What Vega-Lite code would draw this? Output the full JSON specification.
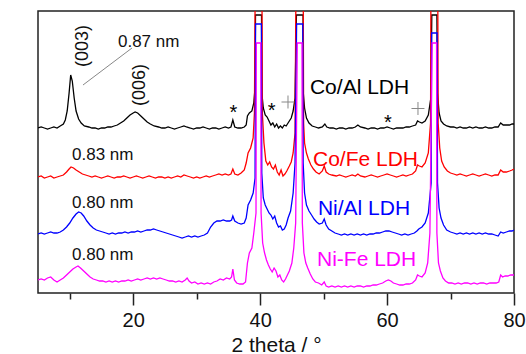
{
"$schema": "https://vega.github.io/schema/vega-lite/v6.json",
"width": 476, "height": 282,
"autosize": {"type": "none"},
"padding": {"left": 38, "top": 11, "right": 12, "bottom": 61},
"config": {
 "view": {"stroke": "#222", "strokeWidth": 1.5},
 "font": "Liberation Sans",
 "axis": {"domain": false, "grid": false, "tickColor": "#222", "tickWidth": 1.5, "labelFont": "Liberation Sans", "labelFontSize": 20, "labelColor": "#111", "titleFont": "Liberation Sans", "titleFontWeight": "normal", "titleColor": "#111"}
},
"datasets": {
 "coal": [
{"x":5,"y":165},{"x":5.5,"y":166},{"x":6,"y":165},{"x":6.5,"y":164},{"x":7,"y":165},{"x":7.5,"y":166},{"x":8,"y":165},{"x":8.5,"y":167},{"x":9,"y":169},{"x":9.3,"y":173},{"x":9.6,"y":182},{"x":9.9,"y":200},{"x":10.15,"y":218},{"x":10.4,"y":212},{"x":10.7,"y":195},{"x":11,"y":182},{"x":11.4,"y":174},{"x":11.8,"y":170},{"x":12.3,"y":167},{"x":13,"y":166},{"x":13.5,"y":165},{"x":14,"y":165},{"x":14.5,"y":164},{"x":15,"y":165},{"x":15.5,"y":165},{"x":16,"y":166},{"x":16.5,"y":166},{"x":17,"y":167},{"x":17.5,"y":168},{"x":18,"y":170},{"x":18.5,"y":172},{"x":19,"y":175},{"x":19.5,"y":178},{"x":20,"y":180},{"x":20.3,"y":181},{"x":20.7,"y":180},{"x":21.2,"y":177},{"x":21.7,"y":174},{"x":22.2,"y":171},{"x":22.7,"y":169},{"x":23.3,"y":167},{"x":24,"y":166},{"x":24.5,"y":165},{"x":25,"y":165},{"x":25.5,"y":166},{"x":26,"y":165},{"x":26.5,"y":164},{"x":27,"y":165},{"x":27.5,"y":166},{"x":28,"y":167},{"x":28.4,"y":166},{"x":29,"y":165},{"x":29.5,"y":164},{"x":30,"y":165},{"x":30.5,"y":165},{"x":31,"y":166},{"x":31.5,"y":165},{"x":32,"y":164},{"x":32.5,"y":165},{"x":33,"y":165},{"x":33.5,"y":164},{"x":34,"y":165},{"x":34.5,"y":166},{"x":35,"y":165},{"x":35.4,"y":166},{"x":35.7,"y":173},{"x":36,"y":166},{"x":36.5,"y":165},{"x":37,"y":165},{"x":37.5,"y":166},{"x":37.8,"y":168},{"x":38,"y":177},{"x":38.3,"y":180},{"x":38.7,"y":182},{"x":39,"y":190},{"x":39.2,"y":205},{"x":39.27,"y":278},{"x":40.22,"y":278},{"x":40.27,"y":200},{"x":40.5,"y":185},{"x":40.8,"y":178},{"x":41.1,"y":176},{"x":41.4,"y":172},{"x":41.7,"y":168},{"x":42,"y":170},{"x":42.3,"y":166},{"x":42.6,"y":169},{"x":42.9,"y":165},{"x":43.2,"y":167},{"x":43.5,"y":165},{"x":43.8,"y":168},{"x":44.1,"y":167},{"x":44.5,"y":171},{"x":44.9,"y":175},{"x":45.2,"y":182},{"x":45.5,"y":195},{"x":45.72,"y":278},{"x":46.76,"y":278},{"x":46.8,"y":200},{"x":47,"y":185},{"x":47.3,"y":175},{"x":47.7,"y":170},{"x":48.2,"y":167},{"x":48.7,"y":166},{"x":49.2,"y":165},{"x":49.8,"y":166},{"x":50.2,"y":169},{"x":50.5,"y":166},{"x":51,"y":165},{"x":51.5,"y":165},{"x":52,"y":164},{"x":52.5,"y":165},{"x":53,"y":165},{"x":53.5,"y":164},{"x":54,"y":165},{"x":54.5,"y":165},{"x":55,"y":166},{"x":55.4,"y":168},{"x":55.8,"y":166},{"x":56.5,"y":165},{"x":57,"y":164},{"x":57.5,"y":165},{"x":58,"y":165},{"x":58.5,"y":164},{"x":59,"y":165},{"x":59.5,"y":165},{"x":60,"y":166},{"x":60.5,"y":165},{"x":61,"y":164},{"x":61.5,"y":165},{"x":62,"y":165},{"x":62.5,"y":165},{"x":63,"y":166},{"x":63.5,"y":166},{"x":64,"y":167},{"x":64.5,"y":168},{"x":64.8,"y":172},{"x":65.1,"y":171},{"x":65.5,"y":170},{"x":66,"y":172},{"x":66.5,"y":178},{"x":66.9,"y":195},{"x":67.05,"y":278},{"x":67.85,"y":278},{"x":67.95,"y":200},{"x":68.2,"y":180},{"x":68.5,"y":172},{"x":68.9,"y":169},{"x":69.4,"y":167},{"x":70,"y":166},{"x":70.5,"y":166},{"x":71,"y":165},{"x":71.5,"y":166},{"x":72,"y":165},{"x":72.5,"y":165},{"x":73,"y":166},{"x":73.5,"y":165},{"x":74,"y":166},{"x":74.5,"y":165},{"x":75,"y":165},{"x":75.5,"y":166},{"x":76,"y":165},{"x":76.5,"y":165},{"x":77,"y":166},{"x":77.5,"y":166},{"x":77.9,"y":170},{"x":78.3,"y":168},{"x":78.8,"y":168},{"x":79.3,"y":168},{"x":79.7,"y":169},{"x":80,"y":169}
 ],
 "cofe": [
{"x":5,"y":116},{"x":5.5,"y":117},{"x":6,"y":115},{"x":6.5,"y":116},{"x":7,"y":117},{"x":7.5,"y":115},{"x":8,"y":116},{"x":8.5,"y":117},{"x":9,"y":118},{"x":9.5,"y":121},{"x":9.9,"y":124},{"x":10.2,"y":126},{"x":10.6,"y":125},{"x":11,"y":123},{"x":11.5,"y":121},{"x":12,"y":119},{"x":12.5,"y":118},{"x":13,"y":117},{"x":13.5,"y":116},{"x":14,"y":117},{"x":14.5,"y":116},{"x":15,"y":115},{"x":15.5,"y":116},{"x":16,"y":117},{"x":16.5,"y":116},{"x":17,"y":115},{"x":17.5,"y":116},{"x":18,"y":116},{"x":18.5,"y":117},{"x":19,"y":116},{"x":19.5,"y":115},{"x":20,"y":116},{"x":20.5,"y":117},{"x":21,"y":116},{"x":21.5,"y":115},{"x":22,"y":116},{"x":22.5,"y":117},{"x":23,"y":116},{"x":23.5,"y":115},{"x":24,"y":116},{"x":24.5,"y":116},{"x":25,"y":115},{"x":25.5,"y":116},{"x":26,"y":115},{"x":26.5,"y":116},{"x":27,"y":117},{"x":27.5,"y":116},{"x":28,"y":118},{"x":28.5,"y":117},{"x":29,"y":116},{"x":29.5,"y":115},{"x":30,"y":116},{"x":30.5,"y":115},{"x":31,"y":116},{"x":31.5,"y":117},{"x":32,"y":116},{"x":32.5,"y":117},{"x":33,"y":118},{"x":33.5,"y":119},{"x":34,"y":118},{"x":34.5,"y":119},{"x":35,"y":118},{"x":35.4,"y":119},{"x":35.7,"y":124},{"x":36,"y":119},{"x":36.5,"y":118},{"x":37,"y":120},{"x":37.5,"y":123},{"x":37.8,"y":130},{"x":38.1,"y":140},{"x":38.5,"y":145},{"x":38.9,"y":155},{"x":39.1,"y":180},{"x":39.2,"y":284},{"x":40.3,"y":284},{"x":40.35,"y":180},{"x":40.6,"y":150},{"x":40.9,"y":132},{"x":41.2,"y":128},{"x":41.5,"y":131},{"x":41.8,"y":126},{"x":42.1,"y":124},{"x":42.4,"y":128},{"x":42.7,"y":121},{"x":43,"y":118},{"x":43.3,"y":123},{"x":43.6,"y":117},{"x":43.9,"y":119},{"x":44.2,"y":122},{"x":44.6,"y":127},{"x":44.9,"y":131},{"x":45.2,"y":140},{"x":45.5,"y":160},{"x":45.62,"y":284},{"x":46.8,"y":284},{"x":46.85,"y":170},{"x":47,"y":150},{"x":47.3,"y":140},{"x":47.6,"y":134},{"x":48,"y":128},{"x":48.4,"y":124},{"x":48.8,"y":121},{"x":49.3,"y":119},{"x":49.8,"y":122},{"x":50.1,"y":127},{"x":50.4,"y":121},{"x":50.8,"y":119},{"x":51.3,"y":118},{"x":52,"y":117},{"x":52.5,"y":118},{"x":53,"y":117},{"x":53.5,"y":116},{"x":54,"y":117},{"x":54.5,"y":118},{"x":55,"y":117},{"x":55.4,"y":119},{"x":55.8,"y":117},{"x":56.5,"y":116},{"x":57,"y":117},{"x":57.5,"y":118},{"x":58,"y":117},{"x":58.5,"y":116},{"x":59,"y":117},{"x":59.5,"y":118},{"x":60,"y":119},{"x":60.5,"y":118},{"x":61,"y":117},{"x":61.5,"y":116},{"x":62,"y":117},{"x":62.5,"y":118},{"x":63,"y":117},{"x":63.5,"y":118},{"x":64,"y":119},{"x":64.5,"y":122},{"x":64.8,"y":128},{"x":65.1,"y":127},{"x":65.5,"y":126},{"x":66,"y":130},{"x":66.5,"y":140},{"x":66.85,"y":170},{"x":66.9,"y":284},{"x":68,"y":284},{"x":68.05,"y":170},{"x":68.3,"y":145},{"x":68.6,"y":132},{"x":69,"y":126},{"x":69.5,"y":122},{"x":70,"y":120},{"x":70.5,"y":119},{"x":71,"y":118},{"x":71.5,"y":119},{"x":72,"y":118},{"x":72.5,"y":117},{"x":73,"y":118},{"x":73.5,"y":119},{"x":74,"y":118},{"x":74.5,"y":117},{"x":75,"y":118},{"x":75.5,"y":119},{"x":76,"y":118},{"x":76.5,"y":117},{"x":77,"y":118},{"x":77.5,"y":118},{"x":77.9,"y":123},{"x":78.3,"y":121},{"x":78.8,"y":121},{"x":79.3,"y":122},{"x":79.7,"y":123},{"x":80,"y":124}
 ],
 "nial": [
{"x":5,"y":59},{"x":5.5,"y":60},{"x":6,"y":59},{"x":6.5,"y":60},{"x":7,"y":61},{"x":7.5,"y":60},{"x":8,"y":60},{"x":8.5,"y":61},{"x":9,"y":63},{"x":9.5,"y":66},{"x":10,"y":70},{"x":10.5,"y":75},{"x":11,"y":79},{"x":11.4,"y":81},{"x":11.8,"y":80},{"x":12.2,"y":77},{"x":12.7,"y":72},{"x":13.2,"y":68},{"x":13.7,"y":65},{"x":14.2,"y":63},{"x":14.7,"y":62},{"x":15.2,"y":61},{"x":15.7,"y":60},{"x":16.2,"y":59},{"x":16.7,"y":60},{"x":17.2,"y":59},{"x":17.7,"y":60},{"x":18.2,"y":60},{"x":18.7,"y":61},{"x":19.2,"y":60},{"x":19.7,"y":61},{"x":20.2,"y":61},{"x":20.7,"y":62},{"x":21.2,"y":61},{"x":21.7,"y":62},{"x":22.2,"y":63},{"x":22.7,"y":63},{"x":23.2,"y":64},{"x":23.7,"y":63},{"x":24.2,"y":62},{"x":24.7,"y":61},{"x":25.2,"y":60},{"x":25.7,"y":59},{"x":26.2,"y":58},{"x":26.7,"y":57},{"x":27.2,"y":56},{"x":27.7,"y":55},{"x":28.2,"y":56},{"x":28.7,"y":57},{"x":29.2,"y":56},{"x":29.7,"y":57},{"x":30.2,"y":56},{"x":30.7,"y":57},{"x":31.2,"y":58},{"x":31.7,"y":60},{"x":32.2,"y":66},{"x":32.7,"y":70},{"x":33.2,"y":72},{"x":33.7,"y":72},{"x":34.2,"y":73},{"x":34.7,"y":72},{"x":35.2,"y":72},{"x":35.5,"y":73},{"x":35.7,"y":77},{"x":36,"y":72},{"x":36.5,"y":70},{"x":37,"y":69},{"x":37.5,"y":70},{"x":37.8,"y":75},{"x":38.1,"y":88},{"x":38.5,"y":93},{"x":38.9,"y":100},{"x":39.2,"y":115},{"x":39.28,"y":269},{"x":40.2,"y":269},{"x":40.26,"y":120},{"x":40.5,"y":95},{"x":40.8,"y":88},{"x":41.1,"y":84},{"x":41.4,"y":80},{"x":41.7,"y":78},{"x":42,"y":74},{"x":42.3,"y":77},{"x":42.6,"y":70},{"x":42.9,"y":66},{"x":43.2,"y":67},{"x":43.5,"y":63},{"x":43.8,"y":64},{"x":44.1,"y":68},{"x":44.4,"y":75},{"x":44.8,"y":82},{"x":45.2,"y":100},{"x":45.5,"y":130},{"x":45.75,"y":269},{"x":46.72,"y":269},{"x":46.78,"y":130},{"x":47,"y":100},{"x":47.3,"y":88},{"x":47.7,"y":82},{"x":48.1,"y":78},{"x":48.5,"y":74},{"x":48.9,"y":71},{"x":49.3,"y":69},{"x":49.8,"y":70},{"x":50.1,"y":74},{"x":50.4,"y":68},{"x":50.8,"y":64},{"x":51.3,"y":62},{"x":51.8,"y":60},{"x":52.3,"y":59},{"x":52.8,"y":58},{"x":53.3,"y":59},{"x":53.8,"y":58},{"x":54.3,"y":59},{"x":54.8,"y":58},{"x":55.3,"y":59},{"x":55.8,"y":58},{"x":56.3,"y":59},{"x":56.8,"y":58},{"x":57.3,"y":59},{"x":57.8,"y":59},{"x":58.3,"y":60},{"x":58.8,"y":60},{"x":59.3,"y":61},{"x":59.8,"y":62},{"x":60.3,"y":62},{"x":60.8,"y":61},{"x":61.3,"y":60},{"x":61.8,"y":59},{"x":62.3,"y":58},{"x":62.8,"y":59},{"x":63.3,"y":58},{"x":63.8,"y":59},{"x":64.3,"y":60},{"x":64.7,"y":62},{"x":65,"y":64},{"x":65.5,"y":66},{"x":66,"y":70},{"x":66.5,"y":80},{"x":66.95,"y":110},{"x":67.02,"y":260},{"x":67.88,"y":260},{"x":67.95,"y":110},{"x":68.2,"y":85},{"x":68.5,"y":75},{"x":68.9,"y":68},{"x":69.4,"y":63},{"x":70,"y":61},{"x":70.5,"y":60},{"x":71,"y":59},{"x":71.5,"y":60},{"x":72,"y":59},{"x":72.5,"y":60},{"x":73,"y":59},{"x":73.5,"y":60},{"x":74,"y":59},{"x":74.5,"y":60},{"x":75,"y":59},{"x":75.5,"y":60},{"x":76,"y":59},{"x":76.5,"y":59},{"x":77,"y":58},{"x":77.5,"y":57},{"x":77.9,"y":61},{"x":78.3,"y":60},{"x":78.8,"y":61},{"x":79.3,"y":62},{"x":79.7,"y":62},{"x":80,"y":63}
 ],
 "nife": [
{"x":5,"y":13},{"x":5.5,"y":14},{"x":6,"y":13},{"x":6.5,"y":15},{"x":7,"y":16},{"x":7.5,"y":13},{"x":8,"y":11},{"x":8.5,"y":13},{"x":9,"y":15},{"x":9.5,"y":18},{"x":10,"y":21},{"x":10.5,"y":24},{"x":11,"y":26},{"x":11.3,"y":27},{"x":11.7,"y":25},{"x":12.2,"y":22},{"x":12.7,"y":19},{"x":13.2,"y":16},{"x":13.7,"y":14},{"x":14.2,"y":13},{"x":14.7,"y":12},{"x":15.2,"y":12},{"x":15.7,"y":11},{"x":16.2,"y":12},{"x":16.7,"y":11},{"x":17.2,"y":12},{"x":17.7,"y":11},{"x":18.2,"y":12},{"x":18.7,"y":12},{"x":19.2,"y":13},{"x":19.7,"y":12},{"x":20.2,"y":13},{"x":20.7,"y":14},{"x":21.2,"y":13},{"x":21.7,"y":14},{"x":22.2,"y":15},{"x":22.7,"y":14},{"x":23.2,"y":15},{"x":23.7,"y":14},{"x":24.2,"y":15},{"x":24.7,"y":14},{"x":25.2,"y":13},{"x":25.7,"y":12},{"x":26.2,"y":12},{"x":26.7,"y":11},{"x":27.2,"y":12},{"x":27.7,"y":11},{"x":28.2,"y":13},{"x":28.5,"y":15},{"x":28.8,"y":12},{"x":29.2,"y":10},{"x":29.7,"y":11},{"x":30.2,"y":9},{"x":30.7,"y":10},{"x":31.2,"y":9},{"x":31.7,"y":10},{"x":32.2,"y":9},{"x":32.7,"y":11},{"x":33.2,"y":12},{"x":33.7,"y":14},{"x":34.2,"y":13},{"x":34.7,"y":15},{"x":35.2,"y":14},{"x":35.5,"y":16},{"x":35.7,"y":24},{"x":35.95,"y":13},{"x":36.3,"y":10},{"x":36.8,"y":9},{"x":37.3,"y":9},{"x":37.7,"y":11},{"x":38,"y":30},{"x":38.3,"y":40},{"x":38.7,"y":45},{"x":39,"y":60},{"x":39.35,"y":80},{"x":39.4,"y":250},{"x":40.1,"y":250},{"x":40.15,"y":80},{"x":40.4,"y":50},{"x":40.7,"y":40},{"x":41,"y":33},{"x":41.3,"y":28},{"x":41.6,"y":24},{"x":41.9,"y":21},{"x":42.2,"y":25},{"x":42.5,"y":22},{"x":42.8,"y":16},{"x":43.1,"y":18},{"x":43.4,"y":13},{"x":43.7,"y":11},{"x":44,"y":14},{"x":44.3,"y":18},{"x":44.6,"y":22},{"x":45,"y":30},{"x":45.3,"y":45},{"x":45.6,"y":70},{"x":45.85,"y":250},{"x":46.6,"y":250},{"x":46.65,"y":70},{"x":46.9,"y":40},{"x":47.2,"y":30},{"x":47.5,"y":25},{"x":47.9,"y":19},{"x":48.3,"y":14},{"x":48.7,"y":11},{"x":49.2,"y":10},{"x":49.7,"y":8},{"x":50.1,"y":11},{"x":50.4,"y":7},{"x":50.8,"y":6},{"x":51.3,"y":7},{"x":51.8,"y":6},{"x":52.3,"y":7},{"x":52.8,"y":6},{"x":53.3,"y":7},{"x":53.8,"y":6},{"x":54.3,"y":7},{"x":54.8,"y":6},{"x":55.3,"y":7},{"x":55.8,"y":7},{"x":56.3,"y":6},{"x":56.8,"y":7},{"x":57.3,"y":7},{"x":57.8,"y":8},{"x":58.3,"y":8},{"x":58.8,"y":9},{"x":59.3,"y":10},{"x":59.8,"y":12},{"x":60.2,"y":13},{"x":60.6,"y":12},{"x":61,"y":10},{"x":61.5,"y":9},{"x":62,"y":8},{"x":62.5,"y":8},{"x":63,"y":9},{"x":63.5,"y":9},{"x":64,"y":10},{"x":64.5,"y":13},{"x":64.8,"y":18},{"x":65.1,"y":17},{"x":65.5,"y":16},{"x":66,"y":20},{"x":66.4,"y":30},{"x":66.75,"y":60},{"x":67.1,"y":250},{"x":67.8,"y":250},{"x":67.85,"y":60},{"x":68.1,"y":30},{"x":68.4,"y":22},{"x":68.8,"y":15},{"x":69.2,"y":12},{"x":69.7,"y":10},{"x":70.2,"y":10},{"x":70.7,"y":9},{"x":71.2,"y":10},{"x":71.7,"y":9},{"x":72.2,"y":10},{"x":72.7,"y":10},{"x":73.2,"y":9},{"x":73.7,"y":10},{"x":74.2,"y":9},{"x":74.7,"y":10},{"x":75.2,"y":10},{"x":75.7,"y":9},{"x":76.2,"y":10},{"x":76.7,"y":10},{"x":77.2,"y":10},{"x":77.6,"y":11},{"x":77.9,"y":18},{"x":78.2,"y":16},{"x":78.6,"y":17},{"x":79,"y":17},{"x":79.5,"y":18},{"x":80,"y":18}
 ]
},
"encoding": {
 "x": {"field": "x", "type": "quantitative", "scale": {"domain": [5, 80], "nice": false, "zero": false}, "axis": null},
 "y": {"field": "y", "type": "quantitative", "scale": {"domain": [0, 282], "nice": false, "zero": false}, "axis": null}
},
"layer": [
 {"data": {"name": "coal"}, "mark": {"type": "line", "color": "#000000", "strokeWidth": 1.3, "clip": true},
  "encoding": {
   "x": {"field": "x", "type": "quantitative", "scale": {"domain": [5, 80], "nice": false, "zero": false},
         "axis": {"orient": "bottom", "values": [20, 40, 60, 80], "tickSize": 12, "labelPadding": 21, "labelBaseline": "alphabetic", "labelFlush": false, "labelOverlap": false, "labelBound": false, "title": "2 theta / °", "titleFontSize": 21, "titleY": 58, "titleBaseline": "alphabetic"}},
   "y": {"field": "y", "type": "quantitative", "scale": {"domain": [0, 282], "nice": false, "zero": false},
         "axis": {"ticks": false, "labels": false, "title": "Counts (a.u.)", "titleFontSize": 18, "titleX": -9.5, "titleY": 165, "titleBaseline": "alphabetic", "titleAngle": -90}}
  }},
 {"data": {"name": "cofe"}, "mark": {"type": "line", "color": "#ff0000", "strokeWidth": 1.3, "clip": true}},
 {"data": {"name": "nial"}, "mark": {"type": "line", "color": "#0000ff", "strokeWidth": 1.3, "clip": true}},
 {"data": {"name": "nife"}, "mark": {"type": "line", "color": "#ff00ff", "strokeWidth": 1.3, "clip": true}},
 {"data": {"values": [{"x": 12.09, "y": 208, "x2": 19.81, "y2": 245}]},
  "mark": {"type": "rule", "color": "#888888", "strokeWidth": 1},
  "encoding": {"x2": {"field": "x2"}, "y2": {"field": "y2"}}},
 {"data": {"values": [{"x": 17.6, "y": 251, "t": "0.87 nm"}, {"x": 10.36, "y": 138, "t": "0.83 nm"}, {"x": 10.36, "y": 90, "t": "0.80 nm"}, {"x": 10.36, "y": 38, "t": "0.80 nm"}]},
  "mark": {"type": "text", "align": "left", "baseline": "middle", "fontSize": 17, "color": "#111111"},
  "encoding": {
   "x": {"field": "x", "type": "quantitative", "scale": {"domain": [5, 80], "nice": false, "zero": false},
         "axis": {"orient": "bottom", "values": [10, 30, 50, 70], "tickSize": 6, "labels": false, "title": null}},
   "text": {"field": "t"}
  }},
 {"data": {"values": [{"x": 12.09, "y": 247, "t": "(003)"}, {"x": 21.07, "y": 208, "t": "(006)"}]},
  "mark": {"type": "text", "align": "center", "baseline": "middle", "fontSize": 18, "angle": 270, "color": "#111111"},
  "encoding": {"text": {"field": "t"}}},
 {"data": {"values": [{"x": 35.8, "y": 185}, {"x": 41.82, "y": 187.5}, {"x": 60.14, "y": 175.5}]},
  "mark": {"type": "text", "text": "*", "align": "center", "baseline": "alphabetic", "dy": 11.4, "fontSize": 20, "color": "#000000"}},
 {"data": {"values": [{"x": 44.39, "y": 191}, {"x": 64.87, "y": 184.5}]},
  "mark": {"type": "point", "shape": "M-1,0L1,0M0,-1L0,1", "size": 169, "filled": false, "stroke": "#888888", "strokeWidth": 1, "opacity": 1}},
 {"data": {"values": [{"x": 47.85, "y": 205, "t": "Co/Al LDH"}, {"x": 48.33, "y": 133.5, "t": "Co/Fe LDH"}, {"x": 49.1, "y": 84.5, "t": "Ni/Al LDH"}, {"x": 48.96, "y": 33, "t": "Ni-Fe LDH"}]},
  "mark": {"type": "text", "align": "left", "baseline": "middle", "fontSize": 21},
  "encoding": {"text": {"field": "t"},
   "color": {"field": "t", "type": "nominal", "scale": {"domain": ["Co/Al LDH", "Co/Fe LDH", "Ni/Al LDH", "Ni-Fe LDH"], "range": ["#000000", "#ff0000", "#0000ff", "#ff00ff"]}, "legend": null}}}
],
"resolve": {"axis": {"x": "independent"}}
}
